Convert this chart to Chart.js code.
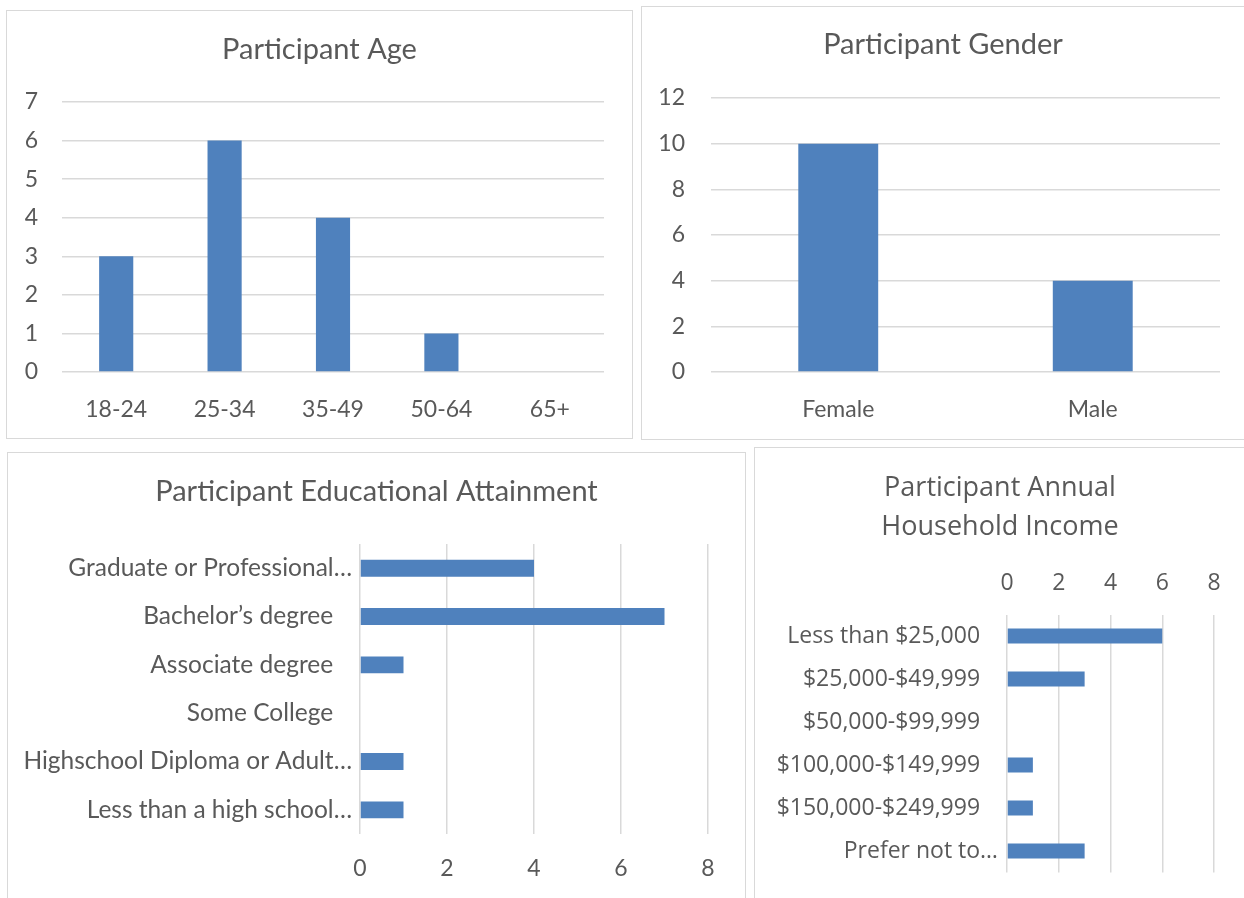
<!DOCTYPE html>
<html>
<head>
<meta charset="utf-8">
<script src="https://cdn.jsdelivr.net/npm/chart.js@4"></script>
<style>
  body { margin: 0; background: #fff; width: 1244px; height: 898px; overflow: hidden; position: relative; }
  .panel { position: absolute; border: 1px solid #d9d9d9; background: #fff; }
  .panel canvas { display: block; }
</style>
</head>
<body>
<div class="panel" style="left:6px; top:10px;"><canvas id="ageChart" width="625" height="427"></canvas></div>
<div class="panel" style="left:641px; top:6px;"><canvas id="genderChart" width="602" height="432"></canvas></div>
<div class="panel" style="left:7px; top:452px; height:470px;"><canvas id="eduChart" width="737" height="446"></canvas></div>
<div class="panel" style="left:754px; top:447px; height:470px;"><canvas id="incomeChart" width="490" height="451"></canvas></div>
<script>
// survey counts
const ageLabels = ['18-24', '25-34', '35-49', '50-64', '65+'];
const ageCounts = [3, 6, 4, 1, 0];

const genderLabels = ['Female', 'Male'];
const genderCounts = [10, 4];

const eduLabels = ['Graduate or Professional…', 'Bachelor’s degree', 'Associate degree',
  'Some College', 'Highschool Diploma or Adult…', 'Less than a high school…'];
const eduCounts = [4, 7, 1, 0, 1, 1];

const incomeLabels = ['Less than $25,000', '$25,000-$49,999', '$50,000-$99,999',
  '$100,000-$149,999', '$150,000-$249,999', 'Prefer not to…'];
const incomeCounts = [6, 3, 0, 1, 1, 3];

const BAR = '#4f81bd';
const TEXT = '#595959';
const GRID = '#d9d9d9';
const SANS = 'Lato';

function titleOpts(text, family, size, lh, top, bottom) {
  return {
    display: true,
    text: text,
    color: TEXT,
    font: { family: family, size: size, weight: 'normal', lineHeight: lh },
    padding: { top: top, bottom: bottom }
  };
}

// empty axis on the right, keeps a margin beside the plot without moving the title
function rightGap(w) {
  return {
    position: 'right',
    display: true,
    grid: { display: false, drawTicks: false },
    border: { display: false },
    ticks: { display: false },
    afterFit: s => { s.width = w; }
  };
}

// vertical column chart
function columnChart(id, labels, values, o) {
  new Chart(document.getElementById(id), {
    type: 'bar',
    data: {
      labels: labels,
      datasets: [{ data: values, backgroundColor: BAR, categoryPercentage: 1, barPercentage: o.bar }]
    },
    options: {
      responsive: false,
      animation: false,
      layout: { padding: { left: 0, right: 0, top: 0, bottom: o.padBottom } },
      plugins: {
        legend: { display: false },
        tooltip: { enabled: false },
        title: titleOpts(o.title, SANS, 29, 1.2, o.titleTop, o.titleBottom)
      },
      scales: {
        x: {
          grid: { display: false, drawTicks: false },
          border: { display: false },
          ticks: { color: TEXT, font: { family: SANS, size: 23 }, padding: 24, maxRotation: 0 },
          afterFit: s => { s.height = 56; }
        },
        y: {
          min: 0, max: o.max,
          grid: { color: GRID, lineWidth: 1.5, drawTicks: false },
          border: { display: false },
          ticks: { stepSize: o.step, color: TEXT, font: { family: SANS, size: 23 }, padding: o.tickPad },
          afterFit: s => { s.width = o.yWidth; }
        },
        gap: rightGap(o.right)
      }
    }
  });
}

// horizontal bar chart
function barChart(id, labels, values, o) {
  new Chart(document.getElementById(id), {
    type: 'bar',
    data: {
      labels: labels,
      datasets: [{ data: values, backgroundColor: BAR, categoryPercentage: 1, barPercentage: 0.35 }]
    },
    options: {
      indexAxis: 'y',
      responsive: false,
      animation: false,
      layout: { padding: { left: 0, right: 0, top: 0, bottom: o.padBottom } },
      plugins: {
        legend: { display: false },
        tooltip: { enabled: false },
        title: titleOpts(o.title, o.family, o.titleSize, o.titleLh, o.titleTop, o.titleBottom)
      },
      scales: {
        x: {
          position: o.xPos,
          min: 0, max: 8,
          grid: { color: GRID, lineWidth: 1.5, drawTicks: false },
          border: { display: false },
          ticks: { stepSize: 2, color: TEXT, font: { family: o.family, size: o.tickSize }, padding: o.xPad },
          afterFit: s => { s.height = 50; }
        },
        y: {
          grid: { display: false, drawTicks: false },
          border: { display: false },
          ticks: {
            autoSkip: false,
            color: TEXT,
            font: { family: o.family, size: o.labelSize },
            padding: o.yPad,
            // cut-off labels run a little past the others
            callback: function (v) {
              const t = this.getLabelForValue(v);
              return t.endsWith('…') ? t : t + o.trail;
            }
          },
          afterFit: s => { s.width = o.yWidth; }
        },
        gap: rightGap(o.right)
      }
    }
  });
}

columnChart('ageChart', ageLabels, ageCounts, {
  title: 'Participant Age', max: 7, step: 1, bar: 0.315,
  yWidth: 55, tickPad: 24, titleTop: 21.6, titleBottom: 34.6,
  right: 28, padBottom: 10
});

columnChart('genderChart', genderLabels, genderCounts, {
  title: 'Participant Gender', max: 12, step: 2, bar: 0.314,
  yWidth: 69, tickPad: 26, titleTop: 20.6, titleBottom: 35.6,
  right: 24, padBottom: 11
});

barChart('eduChart', eduLabels, eduCounts, {
  title: 'Participant Educational Attainment', family: SANS, titleSize: 29, titleLh: 1.2,
  titleTop: 21.6, titleBottom: 34.6, tickSize: 23, labelSize: 24.5, xPos: 'bottom', xPad: 21,
  yWidth: 352, yPad: 8, trail: '   ', right: 37, padBottom: 15
});

barChart('incomeChart', incomeLabels, incomeCounts, {
  title: ['Participant Annual', 'Household Income'], family: 'Open Sans', titleSize: 27, titleLh: 1.426,
  titleTop: 21.5, titleBottom: 18, tickSize: 23, labelSize: 23, xPos: 'top', xPad: 17,
  yWidth: 252, yPad: 9, trail: '   ', right: 31, padBottom: 26.5
});
</script>
</body>
</html>
